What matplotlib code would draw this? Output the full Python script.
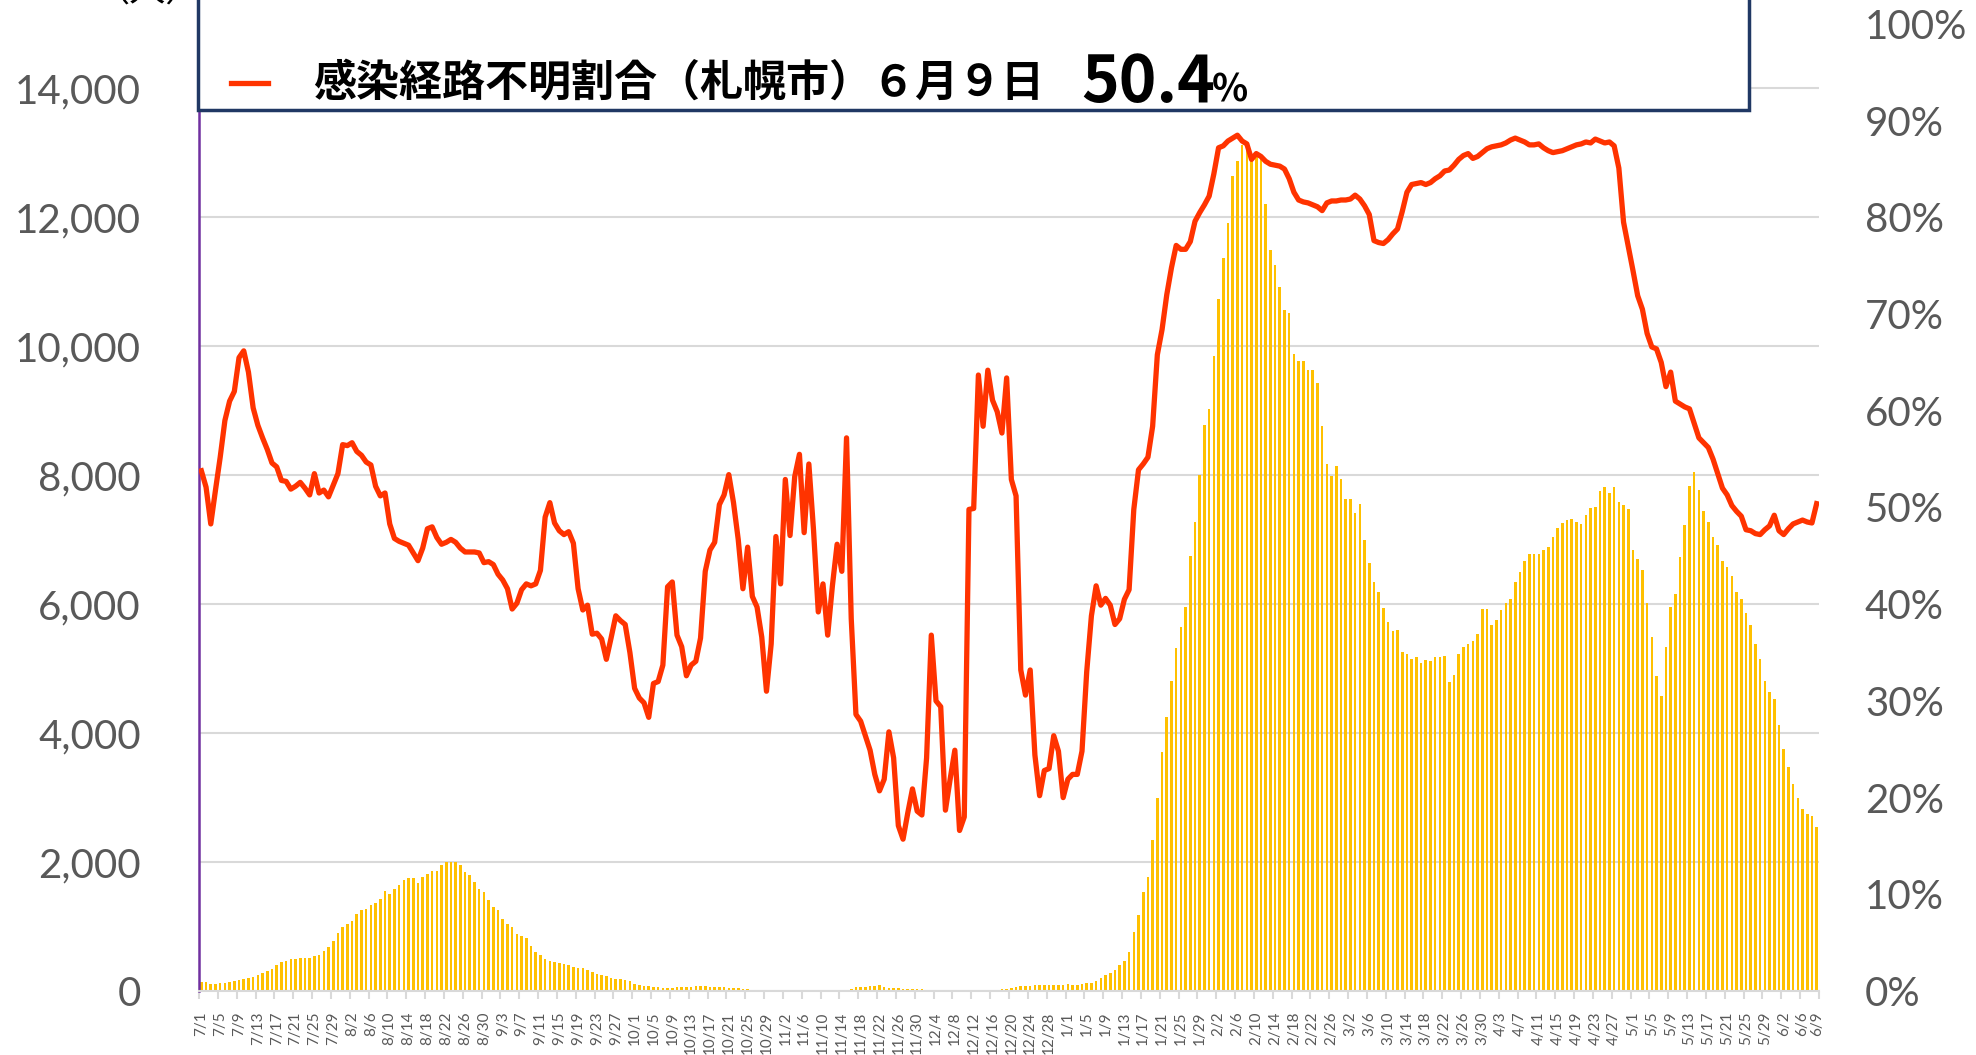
import matplotlib
matplotlib.use("Agg")
import matplotlib.pyplot as plt
from matplotlib.patches import Rectangle
from matplotlib.lines import Line2D
from matplotlib.ticker import FuncFormatter
import numpy as np
import pandas as pd

plt.rcParams['font.family'] = ['Lato', 'Noto Sans CJK JP', 'DejaVu Sans']

# 日付 (2021/7/1 - 2022/6/9)
dates = pd.date_range("2021-07-01", "2022-06-09", freq="D")
date_labels = [f"{d.month}/{d.day}" for d in dates]

# 新規感染者数 (人, 左軸)
cases = [
    133, 133, 113, 113, 120, 120, 133, 153, 166, 179,
    199, 219, 246, 279, 312, 346, 399, 445, 458, 492,
    498, 518, 518, 512, 545, 565, 618, 684, 777, 897,
    997, 1043, 1083, 1196, 1256, 1276, 1329, 1362, 1429, 1548,
    1508, 1575, 1641, 1728, 1748, 1748, 1681, 1761, 1814, 1861,
    1861, 1947, 1994, 2007, 1994, 1960, 1841, 1794, 1694, 1575,
    1528, 1409, 1309, 1263, 1110, 1043, 997, 884, 850, 817,
    698, 598, 565, 498, 465, 445, 432, 412, 399, 365,
    352, 352, 326, 299, 266, 246, 233, 199, 186, 179,
    166, 153, 113, 100, 80, 80, 66, 60, 47, 47,
    53, 60, 60, 66, 66, 73, 73, 73, 66, 66,
    66, 60, 53, 47, 40, 33, 27, 20, 18, 16,
    15, 14, 13, 12, 12, 11, 11, 10, 10, 10,
    10, 10, 9, 9, 9, 10, 12, 18, 30, 60,
    65, 65, 70, 80, 90, 60, 48, 48, 48, 35,
    30, 30, 30, 24, 12, 10, 9, 9, 8, 8,
    8, 9, 9, 10, 11, 12, 13, 15, 18, 22,
    25, 30, 47, 59, 71, 77, 77, 89, 95, 100,
    100, 98, 100, 100, 101, 95, 100, 106, 118, 120,
    160, 200, 245, 285, 330, 400, 458, 611, 910, 1183,
    1528, 1761, 2339, 2990, 3701, 4250, 4815, 5319, 5652, 5949,
    6750, 7272, 8010, 8775, 9027, 9855, 10737, 11367, 11907, 12645,
    12879, 13122, 13095, 12915, 12942, 12915, 12204, 11502, 11259, 10917,
    10557, 10512, 9882, 9765, 9765, 9639, 9639, 9432, 8757, 8172,
    7992, 8145, 7947, 7632, 7632, 7407, 7560, 7002, 6642, 6345,
    6183, 5940, 5724, 5589, 5607, 5265, 5229, 5157, 5175, 5094,
    5130, 5112, 5184, 5184, 5202, 4797, 4905, 5229, 5337, 5382,
    5427, 5544, 5922, 5922, 5679, 5760, 5904, 6012, 6084, 6345,
    6507, 6669, 6777, 6777, 6777, 6840, 6894, 7047, 7182, 7263,
    7299, 7317, 7272, 7245, 7389, 7497, 7515, 7749, 7812, 7722,
    7812, 7587, 7542, 7479, 6840, 6705, 6525, 6012, 5490, 4887,
    4572, 5337, 5949, 6165, 6732, 7227, 7839, 8055, 7767, 7452,
    7272, 7047, 6912, 6669, 6579, 6435, 6192, 6075, 5859, 5679,
    5382, 5157, 4815, 4644, 4527, 4122, 3753, 3474, 3213, 2997,
    2817, 2745, 2709, 2547,
]

# 感染経路不明割合 (札幌市, %, 右軸)
unknown_pct = [
    53.8, 52.1, 48.3, 51.8, 55.2, 59.0, 61.0, 62.0, 65.5, 66.2,
    64.0, 60.3, 58.5, 57.2, 56.0, 54.6, 54.2, 52.8, 52.7, 51.9,
    52.2, 52.6, 52.0, 51.3, 53.5, 51.5, 51.8, 51.1, 52.3, 53.5,
    56.5, 56.4, 56.7, 55.8, 55.4, 54.7, 54.4, 52.2, 51.2, 51.5,
    48.3, 46.8, 46.5, 46.3, 46.1, 45.3, 44.5, 45.8, 47.8, 48.0,
    46.9, 46.2, 46.4, 46.7, 46.4, 45.8, 45.4, 45.4, 45.4, 45.3,
    44.3, 44.4, 44.1, 43.1, 42.5, 41.6, 39.5, 40.1, 41.5, 42.1,
    41.9, 42.1, 43.5, 49.0, 50.5, 48.4, 47.6, 47.2, 47.5, 46.3,
    41.6, 39.4, 39.9, 36.9, 37.0, 36.4, 34.3, 36.5, 38.8, 38.3,
    37.9, 35.0, 31.3, 30.3, 29.8, 28.3, 31.8, 32.0, 33.7, 41.8,
    42.3, 36.8, 35.6, 32.6, 33.7, 34.1, 36.5, 43.4, 45.6, 46.4,
    50.3, 51.3, 53.4, 50.5, 46.7, 41.6, 45.9, 40.8, 39.7, 36.6,
    31.0, 35.9, 47.0, 42.1, 52.9, 47.1, 53.2, 55.5, 47.4, 54.5,
    47.6, 39.2, 42.1, 36.8, 41.9, 46.2, 43.4, 57.2, 38.5, 28.6,
    27.9, 26.4, 24.9, 22.4, 20.7, 21.9, 26.8, 24.1, 17.1, 15.7,
    18.4, 20.9, 18.6, 18.2, 24.1, 36.8, 30.0, 29.4, 18.7, 21.9,
    24.9, 16.6, 18.0, 49.8, 49.9, 63.7, 58.4, 64.2, 61.1, 59.9,
    57.7, 63.4, 52.9, 51.2, 33.2, 30.6, 33.2, 24.4, 20.2, 22.8,
    23.0, 26.4, 24.8, 20.0, 21.9, 22.4, 22.4, 24.8, 33.0, 38.8,
    41.9, 39.9, 40.6, 39.9, 37.9, 38.5, 40.5, 41.5, 49.8, 53.9,
    54.5, 55.2, 58.4, 65.8, 68.4, 72.0, 74.8, 77.1, 76.7, 76.7,
    77.5, 79.6, 80.5, 81.3, 82.2, 84.5, 87.2, 87.4, 87.9, 88.2,
    88.5, 87.9, 87.6, 86.0, 86.6, 86.3, 85.8, 85.5, 85.4, 85.3,
    85.0, 84.0, 82.6, 81.8, 81.6, 81.5, 81.3, 81.1, 80.7, 81.5,
    81.7, 81.7, 81.8, 81.8, 81.9, 82.3, 81.9, 81.2, 80.3, 77.6,
    77.4, 77.3, 77.7, 78.3, 78.8, 80.6, 82.6, 83.4, 83.5, 83.6,
    83.4, 83.6, 84.0, 84.3, 84.8, 84.9, 85.4, 86.0, 86.4, 86.6,
    86.1, 86.3, 86.7, 87.1, 87.3, 87.4, 87.5, 87.7, 88.0, 88.2,
    88.0, 87.8, 87.5, 87.5, 87.6, 87.2, 86.9, 86.7, 86.8, 86.9,
    87.1, 87.3, 87.5, 87.6, 87.8, 87.7, 88.1, 87.9, 87.7, 87.8,
    87.4, 85.1, 79.5, 77.0, 74.5, 71.9, 70.5, 68.0, 66.6, 66.4,
    65.0, 62.5, 64.0, 61.0, 60.7, 60.4, 60.2, 58.7, 57.2, 56.7,
    56.2, 55.0, 53.5, 52.0, 51.3, 50.2, 49.6, 49.1, 47.7, 47.6,
    47.3, 47.2, 47.7, 48.1, 49.2, 47.6, 47.2, 47.8, 48.3, 48.5,
    48.7, 48.5, 48.4, 50.4,
]

title_text = "感染経路不明割合（札幌市）６月９日"
latest_text = "50.4"

W, H = 1976, 1055
fig = plt.figure(figsize=(W / 100, H / 100), dpi=100)
ax = fig.add_axes([199 / W, 1 - 991 / H, (1819 - 199) / W, (991 - 24) / H])
ax2 = ax.twinx()

x = np.arange(len(dates))
ax.bar(x, cases, width=0.55, color="#FFC000", zorder=2)
ax2.plot(x, np.array(unknown_pct) / 100, color="#FF3300", lw=3.8,
         solid_joinstyle="round")

ax.set_xlim(-0.5, len(dates) - 0.5)
ax.set_ylim(0, 15000)
ax.set_yticks(np.arange(0, 14001, 2000))
ax.yaxis.set_major_formatter(FuncFormatter(lambda v, p: f"{int(v):,}"))
ax.grid(axis="y", color="#D9D9D9", lw=1.5)
ax.set_axisbelow(True)

ax2.set_ylim(0, 1)
ax2.set_yticks(np.arange(0, 1.01, 0.1))
ax2.yaxis.set_major_formatter(FuncFormatter(lambda v, p: f"{v * 100:.0f}%"))

# x軸: 4日おき + 最終日
tick_idx = list(range(0, len(dates), 4))
if tick_idx[-1] != len(dates) - 1:
    tick_idx.append(len(dates) - 1)
ax.set_xticks(tick_idx)
ax.set_xticklabels([date_labels[i] for i in tick_idx], rotation=90,
                   fontsize=11, color="#595959")
ax.set_xticks(np.arange(-0.5, len(dates), 4), minor=True)
ax.tick_params(axis="x", which="major", length=0, pad=15)
ax.tick_params(axis="x", which="minor", length=6, width=1.5, color="#D9D9D9")

ax.tick_params(axis="y", length=0, pad=42, labelsize=29, labelcolor="#595959")
ax2.tick_params(axis="y", length=0, pad=33, labelsize=29, labelcolor="#595959")

for a in (ax, ax2):
    for s in ("top", "right"):
        a.spines[s].set_visible(False)
ax2.spines["left"].set_visible(False)
ax2.spines["bottom"].set_visible(False)
ax.spines["left"].set_color("#7030A0")
ax.spines["left"].set_linewidth(1.8)
ax.spines["bottom"].set_color("#D9D9D9")
ax.spines["bottom"].set_linewidth(1.5)

# 凡例ボックス
fig.add_artist(Rectangle((198 / W, 1 - 110 / H), (1749 - 198) / W, 0.2,
                         transform=fig.transFigure, facecolor="white",
                         edgecolor="#203864", lw=2.5, zorder=10, clip_on=False))
fig.add_artist(Line2D([231 / W, 268 / W], [1 - 83 / H, 1 - 83 / H],
                      transform=fig.transFigure, color="#FF3300", lw=3.8,
                      zorder=11))
fig.text(313 / W, 1 - 83 / H, title_text, fontsize=31, fontweight="bold",
         family=["Noto Sans CJK JP"], va="center", ha="left", zorder=11)
fig.text(1081 / W, 1 - 102 / H, latest_text, fontsize=46, fontweight="bold",
         family=["Noto Sans CJK JP"], va="baseline", ha="left", zorder=11)
fig.text(1212 / W, 1 - 102 / H, "%", fontsize=27, fontweight="bold",
         family=["Noto Sans CJK JP"], va="baseline", ha="left", zorder=11)

fig.text(148 / W, 1.008, "（人）", fontsize=26, color="black",
         family=["Noto Sans CJK JP"], va="center", ha="center")

fig.savefig("out.png", dpi=100)
